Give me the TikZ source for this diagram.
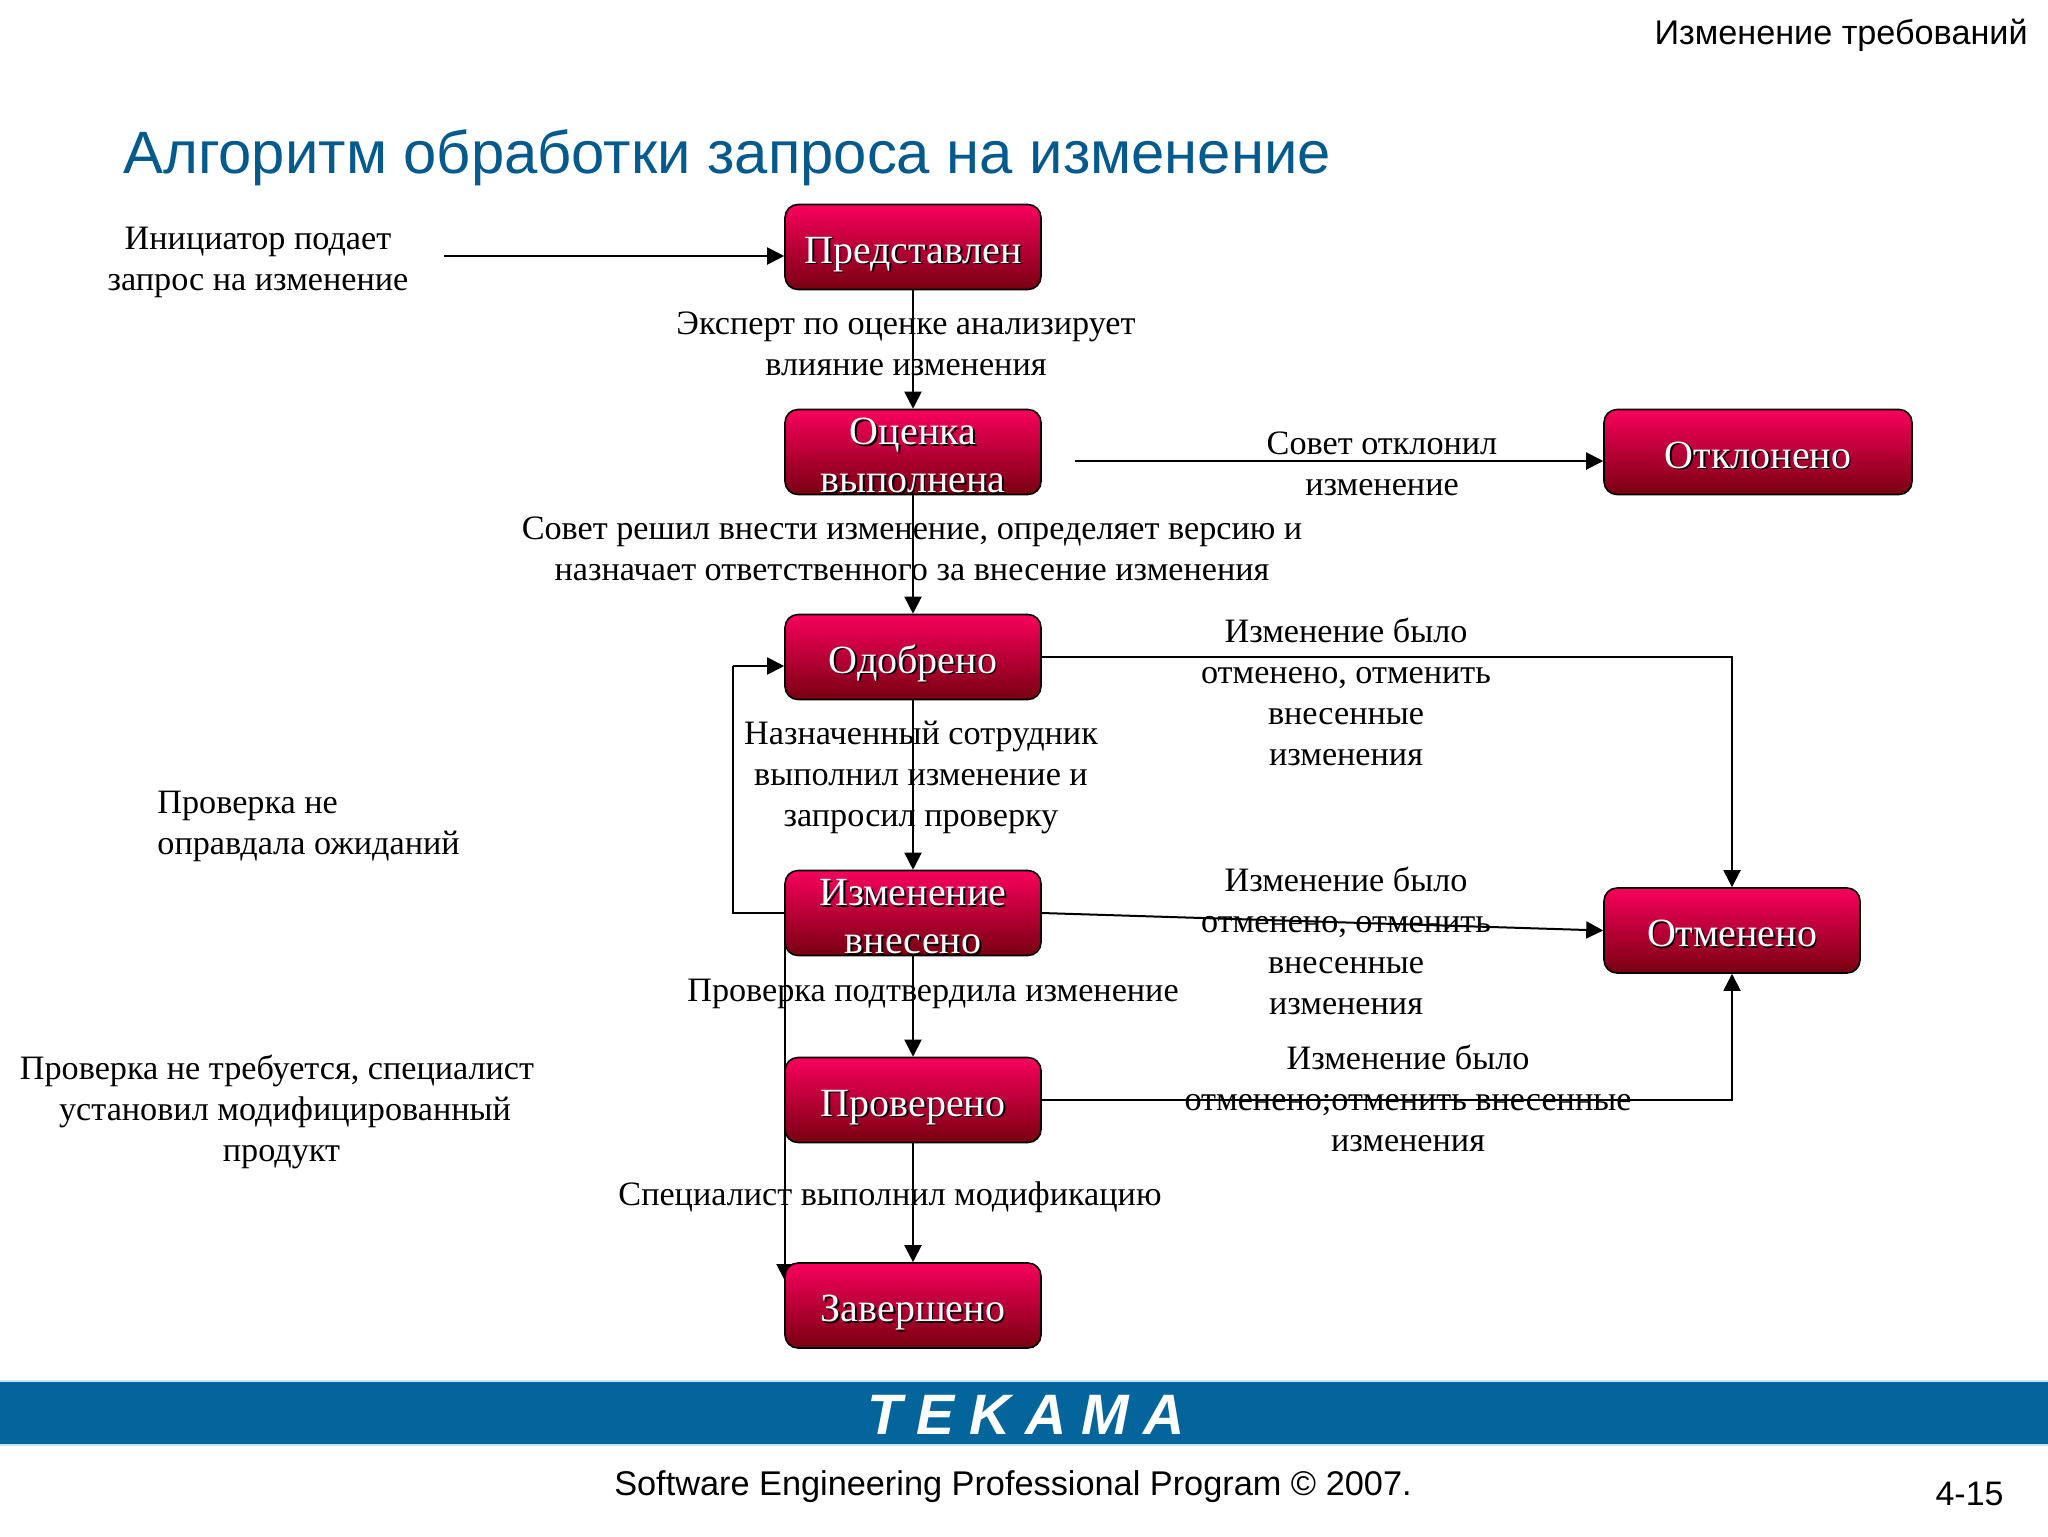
\documentclass[tikz,border=0pt]{standalone}
\usepackage{fontspec}
\setmainfont{Liberation Serif}
\newfontfamily\headfont{Liberation Sans}
\newfontfamily\logofont[LetterSpace=26]{Liberation Sans}
\usetikzlibrary{arrows.meta}

\definecolor{topred}{HTML}{F8005C}
\definecolor{botred}{HTML}{780010}
\definecolor{titleblue}{HTML}{045A8D}
\definecolor{bannerblue}{HTML}{03659C}
\definecolor{bannerline}{HTML}{BFE6F2}

\newcommand{\shadowtxt}[1]{\makebox[0pt][l]{\hspace{0.9pt}\raisebox{-0.9pt}{\textcolor{black}{#1}}}#1}
\newcommand{\oneline}[1]{\raisebox{-8pt}[0pt][0pt]{\shadowtxt{#1}}}
\newcommand{\twolines}[2]{\raisebox{-8.5pt}[0pt][0pt]{\begin{tabular}{@{}c@{}}\shadowtxt{#1}\\\shadowtxt{#2}\end{tabular}}}

\tikzset{
    statebox/.style={draw=black, line width=0.8pt, rounded corners=6.5pt, top color=topred, bottom color=botred,
        minimum height=42.5pt, inner sep=0pt, text=white, font=\fontsize{20}{24}\selectfont},
    note/.style={inner sep=0pt, align=center, font=\fontsize{17.1}{20.5}\selectfont},
    flow/.style={line width=1pt, -{Triangle[length=8.5pt,width=8.5pt]}},
    plain/.style={line width=1pt}
}

\begin{document}
\begin{tikzpicture}[x=0.5pt,y=-0.5pt]
    \useasboundingbox (0,0) rectangle (2048,1536);

    % Banner
    \draw[bannerline, fill=bannerblue, line width=0.7pt] (-10,1381) rectangle (2058,1445);

    % Free ends of the connectors
    \coordinate (initstart) at (444,256);
    \coordinate (otklstart) at (1075,461);
    \coordinate (loopcorner) at (733,666);
    \coordinate (bypasstop) at (785,938);
    \coordinate (bypassend) at (785,1281);

    % Behind the last box
    \draw[flow] (bypasstop) -- (bypassend);

    % States
    \node[statebox, minimum width=128pt] (pred) at (913,247) {\oneline{Представлен}};
    \node[statebox, minimum width=128pt] (ocen) at (913,452) {\twolines{Оценка}{выполнена}};
    \node[statebox, minimum width=128pt] (odob) at (913,657) {\oneline{Одобрено}};
    \node[statebox, minimum width=128pt] (izm) at (913,913) {\twolines{Изменение}{внесено}};
    \node[statebox, minimum width=128pt] (prov) at (913,1100) {\oneline{Проверено}};
    \node[statebox, minimum width=128pt] (zav) at (913,1305.5) {\oneline{Завершено}};
    \node[statebox, minimum width=154pt] (otkl) at (1758,452) {\oneline{Отклонено}};
    \node[statebox, minimum width=128pt] (otm) at (1732,930.5) {\oneline{Отменено}};

    % Connectors
    \draw[flow] (initstart) -- (initstart -| pred.west);
    \draw[flow] (pred) -- (ocen);
    \draw[flow] (ocen) -- (odob);
    \draw[flow] (odob) -- (izm);
    \draw[flow] (izm) -- (prov);
    \draw[flow] (prov) -- (zav);
    \draw[flow] (otklstart) -- (otklstart -| otkl.west);
    \draw[flow] (odob.east) -| (otm.north);
    \draw[flow] (izm.east) -- (otm.west);
    \draw[flow] (prov.east) -| (otm.south);
    \draw[plain] (izm.west) -| (loopcorner);
    \draw[flow] (loopcorner) -- (loopcorner -| odob.west);

    % Labels
    \node[note] (initlabel) at (258,262) {Инициатор подает\\запрос на изменение};
    \node[note] (expertlabel) at (906,344) {Эксперт по оценке анализирует\\влияние изменения};
    \node[note] (otkllabel) at (1382,464) {Совет отклонил\\изменение};
    \node[note] (sovetlabel) at (912,549) {Совет решил внести изменение, определяет версию и\\назначает ответственного за внесение изменения};
    \node[note] (canclabela) at (1346,692) {Изменение было\\отменено, отменить\\внесенные\\изменения};
    \node[note] (assignlabel) at (921,777) {Назначенный сотрудник\\выполнил изменение и\\запросил проверку};
    \node[note, align=left, anchor=west] (faillabel) at (157,826) {Проверка не\\оправдала ожиданий};
    \node[note] (canclabelb) at (1346,941) {Изменение было\\отменено, отменить\\внесенные\\изменения};
    \node[note] (oklabel) at (933,994) {Проверка подтвердила изменение};
    \node[note] (skiplabel) at (277,1112) {Проверка не требуется, специалист\\\hspace*{8pt}установил модифицированный\\\hspace*{4.5pt}продукт};
    \node[note] (canclabelc) at (1408,1098) {Изменение было\\отменено;отменить внесенные\\изменения};
    \node[note] (donelabel) at (890,1197) {Специалист выполнил модификацию};

    % Slide frame texts
    \node[inner sep=0pt, anchor=east, font=\headfont\fontsize{17.1}{20}\selectfont] (sectlabel) at (2028,35) {Изменение требований};
    \node[inner sep=0pt, anchor=west, text=titleblue, font=\headfont\fontsize{29.9}{36}\selectfont] (titlelabel) at (123,158) {Алгоритм обработки запроса на изменение};
    \node[inner sep=0pt, text=white, font=\logofont\bfseries\itshape\fontsize{28.5}{34}\selectfont] (logolabel) at (1026,1415) {TEKAMA};
    \node[inner sep=0pt, font=\headfont\fontsize{17.15}{20}\selectfont] (footlabel) at (1013,1487) {Software Engineering Professional Program © 2007.};
    \node[inner sep=0pt, anchor=east, font=\headfont\fontsize{17}{20}\selectfont] (pagelabel) at (2004,1494) {4-15};
\end{tikzpicture}
\end{document}
